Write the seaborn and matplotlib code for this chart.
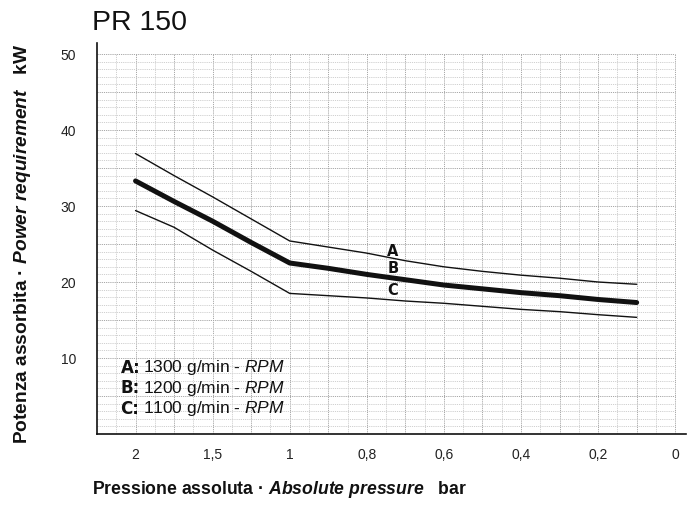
import numpy as np
import pandas as pd
import matplotlib
matplotlib.use("Agg")
import matplotlib.pyplot as plt
import seaborn as sns
from matplotlib.ticker import FixedLocator, FixedFormatter

# ---------------- data ----------------
pressure = [2.0, 1.75, 1.5, 1.25, 1.0, 0.9, 0.8, 0.7, 0.6, 0.5, 0.4, 0.3, 0.2, 0.1]
power_A = [36.9, 34.0, 31.2, 28.3, 25.4, 24.6, 23.8, 22.8, 22.0, 21.4, 20.9, 20.5, 20.0, 19.7]
power_B = [33.3, 30.6, 28.0, 25.2, 22.5, 21.8, 21.0, 20.3, 19.6, 19.1, 18.6, 18.2, 17.7, 17.3]
power_C = [29.4, 27.2, 24.2, 21.4, 18.5, 18.2, 17.9, 17.5, 17.2, 16.8, 16.4, 16.1, 15.7, 15.35]
curve_names = ["A", "B", "C"]
curve_rpm = ["1300", "1200", "1100"]
xtick_values = [2.25, 2.0, 1.5, 1.0, 0.8, 0.6, 0.4, 0.2, 0.0]
xtick_labels = ["", "2", "1,5", "1", "0,8", "0,6", "0,4", "0,2", "0"]
ytick_values = [0, 5, 10, 15, 20, 25, 30, 35, 40, 45, 50]
ytick_labels = ["", "", "10", "", "20", "", "30", "", "40", "", "50"]
title = "PR 150"

# ---------------- style ----------------
sns.set_style("white")
plt.rcParams["font.family"] = ["Liberation Sans", "DejaVu Sans"]
plt.rcParams["mathtext.fontset"] = "custom"
plt.rcParams["mathtext.rm"] = "Liberation Sans"
plt.rcParams["mathtext.it"] = "Liberation Sans:italic"
plt.rcParams["mathtext.bf"] = "Liberation Sans:bold"
plt.rcParams["mathtext.sf"] = "Liberation Sans:bold:italic"

df = pd.DataFrame({
    "pressure": pressure * 3,
    "power": power_A + power_B + power_C,
    "curve": [c for c in curve_names for _ in pressure],
})

fig = plt.figure(figsize=(6.94, 5.05), dpi=100)
ax = fig.add_axes([97 / 694, 1 - 434 / 505, (686 - 97) / 694, (434 - 43) / 505])


# piecewise pressure scale of the original chart paper (increasing in p)
def fwd(p):
    p = np.asarray(p, dtype=float)
    return -np.where(p >= 1, 2 * (2 - p), 2 + 5 * (1 - p))


def inv(s):
    s = -np.asarray(s, dtype=float)
    return np.where(s <= 2, 2 - s / 2, 1 - (s - 2) / 5)


ax.set_xscale("function", functions=(fwd, inv))

# grid (graph paper look)
grid_pos = np.arange(-0.25, 7.001, 0.25)
for s in grid_pos:
    major = abs(s * 2 - round(s * 2)) < 1e-6
    ax.vlines(float(inv(-s)), 0, 50, colors="#a8a8a8" if major else "#d0d0d0",
              linestyles=(0, (1.2, 1.0)), linewidth=0.7, zorder=0)
for v in np.arange(1, 51, 1):
    major = v % 5 == 0
    ax.hlines(v, 2.25, 0.0, colors="#a8a8a8" if major else "#d0d0d0",
              linestyles=(0, (1.2, 1.0)), linewidth=0.7, zorder=0)

sns.lineplot(data=df, x="pressure", y="power", hue="curve", size="curve",
             sizes={"A": 1.0, "B": 3.6, "C": 1.0},
             palette={"A": "#111111", "B": "#111111", "C": "#111111"},
             legend=False, ax=ax, sort=False, zorder=3)

ax.set_xlim(2.25, -0.028)
ax.set_ylim(0, 51.45)

ax.xaxis.set_major_locator(FixedLocator(xtick_values))
ax.xaxis.set_major_formatter(FixedFormatter(xtick_labels))
ax.xaxis.set_minor_locator(FixedLocator([]))
ax.yaxis.set_major_locator(FixedLocator(ytick_values))
ax.yaxis.set_major_formatter(FixedFormatter(ytick_labels))

for side in ["top", "right"]:
    ax.spines[side].set_visible(False)
for side in ["left", "bottom"]:
    ax.spines[side].set_color("#111111")
    ax.spines[side].set_linewidth(1.2)

ax.tick_params(axis="x", direction="out", length=5, width=1.0, color="#111111",
               labelsize=10, labelcolor="#222222", pad=5)
ax.tick_params(axis="y", direction="out", length=5, width=1.0, color="#111111",
               labelsize=10, labelcolor="#222222", pad=10)
ax.set_xlabel("")
ax.set_ylabel("")

# curve labels
label_y = [23.97, 21.84, 18.86]
for name, yy in zip(curve_names, label_y):
    ax.text(0.732, yy, name, fontsize=10.5, fontweight="bold", family="DejaVu Sans",
            ha="center", va="center", color="#111111", zorder=4)

# legend text block
leg_y = [8.72, 6.05, 3.29]
for name, rpm, yy in zip(curve_names, curve_rpm, leg_y):
    ax.text(2.097, yy, name + ":", fontsize=12, fontweight="bold", family="DejaVu Sans",
            ha="left", va="center", color="#111111", zorder=4)
    ax.annotate(rpm + r" g/min - $\mathit{RPM}$", xy=(2.097, yy), xytext=(15.8, 0),
                textcoords="offset points", fontsize=12.5, ha="left", va="center",
                color="#111111", zorder=4)

# title and axis labels
fig.text(92 / 694, 1 - 30 / 505, title, fontsize=20.5, ha="left", va="baseline",
         color="#111111")
fig.text(92 / 694, 1 - 494 / 505,
         r"Pressione assoluta · $\mathsf{Absolute\ pressure}$   bar",
         fontsize=12.7, fontweight="bold",
         ha="left", va="baseline", color="#111111")
fig.text(22.5 / 694, 1 - 244 / 505,
         r"Potenza assorbita · $\mathsf{Power\ requirement}$   kW",
         fontsize=13.8, fontweight="bold",
         rotation=90, ha="center", va="center", color="#111111")

fig.savefig("out.png", dpi=100, facecolor="white")
